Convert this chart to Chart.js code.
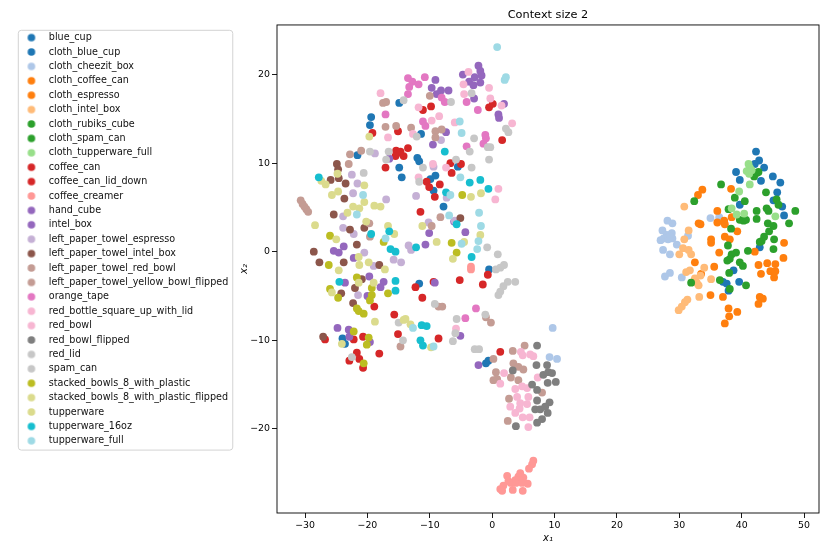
<!DOCTYPE html>
<html>
<head>
<meta charset="utf-8">
<title>Context size 2</title>
<script src="https://cdn.jsdelivr.net/npm/chart.js@4.4.1/dist/chart.umd.min.js"></script>
<style>
    html, body { margin: 0; padding: 0; background: #fff; }
    #wrap { width: 830px; height: 554px; }
</style>
</head>
<body>
<div id="wrap"><canvas id="tsneChart"></canvas></div>
<script>
/* ========================================
   t-SNE embedding, context size 2
   ======================================== */

// Axis limits and ticks
const xRange = [-34.5, 52.4];
const yRange = [-29.5, 25.6];
const xTicks = [-30, -20, -10, 0, 10, 20, 30, 40, 50];
const yTicks = [-20, -10, 0, 10, 20];

const categories = [
    'blue_cup', 'cloth_blue_cup', 'cloth_cheezit_box', 'cloth_coffee_can', 'cloth_espresso',
    'cloth_intel_box', 'cloth_rubiks_cube', 'cloth_spam_can', 'cloth_tupperware_full', 'coffee_can',
    'coffee_can_lid_down', 'coffee_creamer', 'hand_cube', 'intel_box', 'left_paper_towel_espresso',
    'left_paper_towel_intel_box', 'left_paper_towel_red_bowl', 'left_paper_towel_yellow_bowl_flipped',
    'orange_tape', 'red_bottle_square_up_with_lid', 'red_bowl', 'red_bowl_flipped', 'red_lid',
    'spam_can', 'stacked_bowls_8_with_plastic', 'stacked_bowls_8_with_plastic_flipped',
    'tupperware', 'tupperware_16oz', 'tupperware_full'
];

// Points per category, [x1, x2]
const blue_cup = [[-14.9,16.8],[-19.4,15.2],[-19.6,14.3],[-11.4,13.3],[-21.6,10.9],[-12.0,10.6],[-11.7,10.2],[-14.9,9.5],[-14.5,8.4],[-5.5,9.6],[-9.9,8.2],[-9.1,8.6],[-9.4,6.9],[-7.8,5.1],[-11.7,-3.6],[-0.5,-2.0],[-0.6,-12.3],[-1.0,-12.6],[-24.0,-9.8],[-23.6,-10.4]];
const cloth_blue_cup = [[42.3,11.3],[42.8,10.3],[42.1,9.9],[43.6,9.5],[39.1,9.0],[39.7,8.1],[43.1,8.0],[45.0,8.5],[46.2,7.8],[45.7,6.7],[45.1,5.8],[39.7,5.3],[46.5,5.1],[46.8,4.1],[42.9,0.5],[38.7,-2.1],[39.6,-3.4],[37.0,-3.4],[37.6,-3.6],[37.9,-4.4]];
const cloth_cheezit_box = [[28.1,3.5],[28.9,3.2],[35.0,3.8],[36.4,3.9],[27.3,2.4],[28.0,1.9],[28.8,2.1],[27.5,1.5],[28.2,1.4],[28.9,1.5],[28.5,1.7],[27.0,1.3],[29.6,0.8],[27.4,0.2],[28.5,-0.3],[31.4,1.8],[27.7,-2.8],[28.5,-2.4],[30.4,-2.9],[9.7,-8.6],[9.2,-11.9],[10.4,-12.1]];
const cloth_coffee_can = [[33.7,7.0],[33.0,6.4],[38.3,7.1],[36.1,4.6],[33.1,3.2],[33.4,3.1],[36.1,3.3],[37.2,3.5],[37.3,3.1],[38.4,3.9],[39.3,2.3],[35.1,1.4],[35.1,1.0],[37.3,1.7],[38.1,1.4],[36.4,-0.1],[32.5,-1.2],[35.6,-1.7],[33.5,-2.5]];
const cloth_espresso = [[42.1,0.0],[46.8,1.0],[46.7,-0.7],[42.7,-1.5],[44.1,-1.3],[45.4,-1.4],[43.1,-2.5],[44.6,-2.2],[45.4,-2.2],[45.2,-2.9],[35.0,-4.9],[37.0,-5.1],[42.9,-5.1],[43.4,-5.3],[42.7,-5.9],[37.9,-6.4],[39.3,-6.8],[38.0,-7.3],[37.3,-8.1]];
const cloth_intel_box = [[30.8,5.1],[31.5,2.4],[30.6,0.4],[31.5,0.2],[31.9,-0.3],[30.0,-0.3],[30.8,1.4],[31.7,-2.1],[31.1,-2.3],[34.0,-1.8],[33.4,-2.7],[32.5,-3.0],[32.8,-3.5],[33.1,-3.8],[35.1,-3.1],[33.2,-5.1],[31.3,-5.4],[30.9,-5.7],[30.4,-6.2],[29.9,-6.6]];
const cloth_rubiks_cube = [[42.4,8.9],[42.0,8.5],[42.7,9.0],[36.7,7.6],[32.4,5.7],[43.9,6.7],[38.9,6.1],[40.5,5.7],[45.6,5.9],[45.9,5.3],[44.0,4.9],[44.3,4.6],[42.4,4.6],[37.9,4.8],[48.6,4.6],[39.7,3.6],[40.3,3.5],[40.7,3.6],[42.4,3.7],[44.2,3.2],[45.1,2.9]];
const cloth_spam_can = [[47.6,3.2],[38.3,2.6],[44.4,2.3],[43.6,1.7],[43.2,1.2],[42.9,1.1],[45.2,1.4],[45.1,0.3],[37.8,0.7],[41.0,0.1],[39.1,-0.1],[38.4,-0.3],[38.1,-0.8],[37.7,-1.0],[39.7,-1.2],[40.2,-1.6],[38.0,-2.4],[31.9,-3.5],[36.5,-3.2],[40.7,-3.8],[38.1,-4.2]];
const cloth_tupperware_full = [[41.1,9.9],[41.3,9.5],[40.8,9.1],[41.2,8.8],[41.6,9.2],[41.3,7.6],[39.6,6.8],[38.4,4.9],[39.2,4.2],[40.4,4.3],[45.4,4.0]];
const coffee_can = [[-19.2,13.4],[-15.1,13.6],[-9.8,16.4],[-11.1,16.0],[-0.5,16.3],[0.1,16.7],[1.6,12.6],[-13.5,11.7],[-15.4,11.4],[-15.3,11.1],[-14.7,11.3],[-14.2,10.8],[-15.5,10.8],[-17.1,9.5],[-6.7,10.0],[-5.0,9.9],[-6.5,8.9],[-10.5,7.9],[-10.1,7.3],[-8.4,7.6],[-9.2,6.2]];
const coffee_can_lid_down = [[-18.9,-6.2],[-15.7,-7.1],[-15.1,-9.3],[-26.8,-9.9],[-22.2,-9.9],[-20.7,-9.6],[-21.7,-11.4],[-22.9,-12.3],[-21.3,-12.1],[-18.1,-11.5],[-20.7,-13.1],[-12.3,-4.0],[-11.5,4.5],[-5.2,-3.2],[-1.5,-3.7],[-0.7,-2.6],[-11.2,-5.2],[-9.4,-3.4],[-8.6,-9.8],[1.3,-11.3]];
const coffee_creamer = [[-3.4,-1.7],[-3.4,-2.0],[6.6,-23.6],[6.4,-24.0],[5.9,-24.5],[4.5,-25.0],[4.2,-25.4],[5.0,-25.5],[4.5,-25.8],[3.7,-25.8],[2.4,-25.3],[2.6,-25.9],[3.0,-26.1],[3.8,-26.1],[4.8,-26.1],[5.7,-26.2],[1.8,-26.4],[1.3,-26.8],[1.6,-27.0],[3.3,-26.9],[4.9,-27.0]];
const hand_cube = [[-16.5,10.5],[-25.4,0.1],[-24.6,-0.1],[-23.8,0.6],[-22.2,-0.7],[-23.6,-3.5],[-19.7,-2.8],[-17.4,-3.4],[-17.9,-4.0],[-20.0,-5.0],[-24.8,-8.6],[-23.0,-8.8],[-22.9,-9.6],[-19.6,-10.2],[-10.1,2.1],[-6.1,3.4],[-4.3,2.2],[-10.7,0.8],[-9.2,-3.5],[-5.1,-9.5],[-2.2,-12.8]];
const intel_box = [[-2.2,21.0],[-1.9,20.4],[-1.7,19.9],[-4.7,20.0],[-2.8,19.7],[-3.7,19.2],[-3.0,18.8],[-1.9,19.1],[-2.9,17.3],[-9.1,19.4],[-9.7,18.5],[-8.2,18.2],[-8.9,17.8],[-7.0,18.2],[1.9,16.7],[1.0,15.5],[1.1,15.1],[-7.4,13.5],[-9.5,12.1]];
const left_paper_towel_espresso = [[-18.8,11.1],[-22.5,8.7],[-21.6,7.7],[-22.3,6.6],[-8.2,12.6],[-9.4,9.6],[-12.2,6.3],[-7.3,6.1],[-23.9,4.0],[-23.9,2.7],[-22.2,2.0],[-20.5,-0.1],[-19.0,-1.6],[-15.8,-0.9],[-14.6,-1.2],[-13.4,0.7],[-13.0,0.2],[-21.5,-4.9],[-17.0,5.9],[-10.2,3.3],[-6.0,3.5]];
const left_paper_towel_intel_box = [[-24.9,9.9],[-24.7,9.3],[-25.9,8.1],[-24.6,8.3],[-23.5,7.7],[-23.7,6.0],[-25.4,4.2],[-22.8,2.5],[-20.5,2.7],[-21.7,0.8],[-28.6,0.0],[-27.7,-1.2],[-23.8,-1.2],[-18.1,-1.5],[-20.9,-3.1],[-22.0,-4.1],[-24.2,-4.7],[-22.3,-5.8],[-27.1,-9.6],[-5.1,3.8]];
const left_paper_towel_red_bowl = [[-17.5,16.8],[-17.0,16.9],[-17.1,14.1],[-15.4,14.2],[-13.0,14.0],[-10.0,17.6],[-9.1,13.6],[-9.1,12.9],[-8.1,13.8],[-22.8,11.0],[-21.0,11.4],[-23.0,9.9],[-19.6,1.7],[-14.7,-10.7],[-19.7,3.2],[-9.7,2.9],[-8.3,3.9],[-8.6,-6.2],[-8.0,-6.2]];
const left_paper_towel_yellow_bowl_flipped = [[-30.7,5.8],[-30.4,5.4],[-30.1,5.1],[-29.8,4.8],[-29.5,4.5],[-1.0,-7.4],[-0.2,-8.0],[0.2,-12.1],[3.3,-11.2],[5.2,-10.6],[3.4,-12.6],[4.2,-13.0],[5.0,-13.3],[0.6,-13.6],[0.2,-14.5],[0.8,-14.4],[3.0,-14.2],[4.2,-14.5],[2.7,-16.6],[2.5,-19.1],[8.0,-15.9]];
const orange_tape = [[-13.5,19.6],[-12.8,19.2],[-11.8,18.9],[-13.3,18.6],[-13.5,17.8],[-10.8,19.7],[-17.1,15.5],[-11.1,14.7],[-10.7,14.2],[-8.1,17.4],[-7.6,16.9],[-4.1,16.9],[-2.3,16.0],[-1.1,13.2],[-1.0,12.8],[-1.4,12.2],[-4.1,11.9],[-2.6,-6.4],[-4.3,-7.5]];
const red_bottle_square_up_with_lid = [[-3.8,20.3],[-4.6,18.9],[-0.5,18.5],[-4.5,17.8],[-0.3,17.3],[1.5,16.5],[3.2,14.5],[-17.9,17.9],[-11.8,16.3],[-9.7,14.8],[-8.5,15.3],[-16.7,12.9],[-12.7,13.3],[-6.0,14.6],[-9.5,9.9],[-7.4,9.5],[-11.8,8.4],[1.0,7.1],[0.5,5.9]];
const red_bowl = [[-5.8,-8.7],[4.6,-11.3],[4.9,-11.7],[6.1,-11.6],[6.6,-11.8],[1.9,-13.7],[1.3,-14.9],[3.7,-15.5],[4.8,-15.2],[5.6,-15.4],[4.0,-16.4],[5.8,-16.4],[2.9,-17.5],[4.5,-17.1],[5.6,-17.2],[3.7,-18.2],[4.4,-17.7],[4.9,-18.7],[6.0,-18.7],[5.8,-19.8],[7.3,-14.2]];
const red_bowl_flipped = [[7.2,-10.6],[7.1,-12.8],[8.8,-12.8],[3.3,-13.4],[8.2,-13.9],[9.0,-13.6],[9.6,-13.7],[8.9,-14.8],[10.2,-14.7],[6.4,-15.0],[7.2,-15.6],[7.2,-16.8],[9.2,-17.0],[6.9,-17.8],[7.7,-17.8],[8.5,-17.5],[8.9,-18.2],[8.0,-18.9],[7.2,-19.3],[3.8,-19.7]];
const red_lid = [[-22.5,-11.9],[-15.0,-8.0],[-14.3,-10.0],[-0.8,0.5],[0.9,-0.3],[1.3,-1.8],[1.9,-1.5],[0.6,-2.0],[2.5,-3.4],[3.7,-3.4],[1.8,-3.9],[1.3,-4.5],[1.0,-4.9],[-9.2,-5.9],[-1.1,-7.1],[-5.7,-7.6],[-5.9,-9.2],[-6.3,-10.1],[-2.8,-11.0],[-2.1,-11.0]];
const spam_can = [[-14.2,17.1],[-12.1,13.0],[-16.6,11.3],[-19.6,11.3],[-6.6,16.9],[-11.1,9.5],[-17.0,10.4],[-20.6,8.9],[-5.8,10.4],[-3.3,17.9],[-2.9,12.8],[-3.6,11.3],[-0.7,11.8],[-0.3,11.8],[2.2,13.9],[2.6,13.5],[-0.5,10.4],[-3.3,9.5],[-11.7,7.9]];
const stacked_bowls_8_with_plastic = [[-4.8,6.4],[-26.0,1.8],[-17.4,1.1],[-26.2,-1.5],[-21.7,-2.9],[-19.3,-4.1],[-26.0,-4.2],[-24.7,-5.2],[-19.3,-4.9],[-19.6,-5.5],[-16.7,-4.7],[-21.7,-6.4],[-21.4,-6.7],[-20.6,-7.0],[-22.2,-9.0],[-19.8,-9.7],[-20.1,-10.5],[-20.6,-12.6],[-6.5,1.0],[-5.7,-0.1]];
const stacked_bowls_8_with_plastic_flipped = [[-19.7,13.0],[-27.4,8.0],[-26.7,7.6],[-24.8,8.8],[-20.5,7.5],[-24.7,6.8],[-25.7,6.4],[-22.3,5.1],[-21.3,4.9],[-20.5,5.6],[-18.9,5.2],[-17.9,5.1],[-23.2,4.4],[-28.4,3.0],[-20.2,3.4],[-16.7,2.9],[-15.7,2.0],[-25.0,1.4],[-21.4,-0.6],[-21.3,-1.5]];
const tupperware = [[-19.8,-1.2],[-24.6,-2.1],[-17.2,-2.0],[-19.0,-3.5],[-21.4,-3.5],[-25.7,-4.6],[-18.8,-7.9],[-14.2,-7.7],[-13.9,-7.6],[-13.1,-8.2],[-24.1,-10.4],[-3.4,6.2],[-1.8,6.6],[-11.2,2.9],[-1.9,1.9],[-8.9,1.1],[-4.5,1.1],[-6.3,-0.8],[-9.8,-10.8]];
const tupperware_16oz = [[-7.6,11.3],[-3.6,7.8],[-1.9,8.1],[-0.6,7.1],[-7.4,6.7],[-27.8,8.4],[-19.4,2.0],[-16.5,2.3],[-16.3,0.3],[-15.5,0.0],[-24.5,-3.4],[-15.5,-3.3],[-15.5,-4.4],[-12.2,0.5],[-5.7,3.1],[-3.3,-0.6],[-11.3,-8.3],[-10.5,-8.4],[-11.5,-10.0],[-11.1,-10.6]];
const tupperware_full = [[0.8,23.1],[2.0,19.4],[2.2,19.7],[-5.2,14.7],[-4.9,13.4],[-5.1,8.4],[-6.7,6.4],[-20.7,6.4],[-21.7,4.2],[-17.1,1.5],[-12.7,-8.6],[-6.9,4.1],[-2.1,4.4],[-1.8,2.9],[-2.2,1.2],[-2.4,0.3],[-4.9,0.9],[-9.4,-10.7]];

const seriesPoints = [
    blue_cup, cloth_blue_cup, cloth_cheezit_box, cloth_coffee_can, cloth_espresso,
    cloth_intel_box, cloth_rubiks_cube, cloth_spam_can, cloth_tupperware_full, coffee_can,
    coffee_can_lid_down, coffee_creamer, hand_cube, intel_box, left_paper_towel_espresso,
    left_paper_towel_intel_box, left_paper_towel_red_bowl, left_paper_towel_yellow_bowl_flipped,
    orange_tape, red_bottle_square_up_with_lid, red_bowl, red_bowl_flipped, red_lid,
    spam_can, stacked_bowls_8_with_plastic, stacked_bowls_8_with_plastic_flipped,
    tupperware, tupperware_16oz, tupperware_full
];

// tab20 colours, sampled for 29 classes
const colors = [
    '#1f77b4', '#1f77b4', '#aec7e8', '#ff7f0e', '#ff7f0e',
    '#ffbb78', '#2ca02c', '#2ca02c', '#98df8a', '#d62728',
    '#d62728', '#ff9896', '#9467bd', '#9467bd', '#c5b0d5',
    '#8c564b', '#c49c94', '#c49c94', '#e377c2', '#f7b6d2',
    '#f7b6d2', '#7f7f7f', '#c7c7c7', '#c7c7c7', '#bcbd22',
    '#dbdb8d', '#dbdb8d', '#17becf', '#9edae5'
];

const FONT = "'DejaVu Sans', 'Liberation Sans', sans-serif";
Chart.defaults.font.family = FONT;
Chart.defaults.color = '#000';

// small round marker for the legend
function legendMarker(color) {
    const c = document.createElement('canvas');
    c.width = 10;
    c.height = 10;
    const g = c.getContext('2d');
    g.fillStyle = color;
    g.beginPath();
    g.arc(5, 5, 3.8, 0, Math.PI * 2);
    g.fill();
    return c;
}

function minusSign(v) {
    return String(v).replace('-', '\u2212');
}

// Box around the plot area (matplotlib spines)
const spinesPlugin = {
    id: 'spines',
    afterDraw(chart) {
        const {ctx, chartArea: a} = chart;
        ctx.save();
        ctx.strokeStyle = '#000';
        ctx.lineWidth = 0.9;
        ctx.strokeRect(a.left, a.top, a.right - a.left, a.bottom - a.top);
        ctx.restore();
    }
};

// Frame round the legend
const legendFramePlugin = {
    id: 'legendFrame',
    afterDraw(chart) {
        const hb = chart.legend && chart.legend.legendHitBoxes;
        if (!hb || !hb.length) return;
        const ctx = chart.ctx;
        const left = hb[0].left - 1;
        const top = hb[0].top - 3;
        const right = Math.max(...hb.map(h => h.left + h.width)) + 4;
        const last = hb[hb.length - 1];
        const bottom = last.top + last.height + 4;
        ctx.save();
        ctx.strokeStyle = '#d3d3d3';
        ctx.lineWidth = 1;
        ctx.beginPath();
        ctx.roundRect(left + 0.5, top + 0.5, right - left, bottom - top, 3);
        ctx.stroke();
        ctx.restore();
    }
};

const datasets = categories.map((name, i) => ({
    label: name,
    data: seriesPoints[i].map(p => ({x: p[0], y: p[1]})),
    backgroundColor: colors[i],
    borderWidth: 0,
    pointRadius: 3.9,
    pointHoverRadius: 3.9,
    order: -i
}));

new Chart(document.getElementById('tsneChart'), {
    type: 'scatter',
    data: { datasets: datasets },
    options: {
        responsive: true,
        maintainAspectRatio: false,
        animation: false,
        layout: {
            padding: { left: 14, right: 11, top: 0, bottom: 0 }
        },
        plugins: {
            tooltip: { enabled: false },
            title: {
                display: true,
                text: 'Context size 2',
                fullSize: false,
                color: '#000',
                font: { size: 11.3, weight: 'normal' },
                padding: { top: 8, bottom: 3.4 }
            },
            legend: {
                position: 'left',
                align: 'start',
                maxWidth: 260,
                title: {
                    display: true,
                    text: '',
                    font: { size: 1, lineHeight: 1 },
                    padding: { top: 27, bottom: 0 }
                },
                labels: {
                    usePointStyle: true,
                    pointStyleWidth: 25.2,
                    padding: 4.8,
                    color: '#111',
                    font: { size: 9.6 },
                    sort: (a, b) => a.datasetIndex - b.datasetIndex,
                    generateLabels(chart) {
                        const items = Chart.defaults.plugins.legend.labels.generateLabels(chart);
                        items.forEach(item => {
                            item.pointStyle = legendMarker(colors[item.datasetIndex]);
                        });
                        return items;
                    }
                },
                onClick: () => {}
            }
        },
        scales: {
            x: {
                type: 'linear',
                min: xRange[0],
                max: xRange[1],
                afterBuildTicks: s => { s.ticks = xTicks.map(v => ({value: v})); },
                afterFit: s => { s.height = 41; },
                border: { display: false },
                grid: {
                    drawOnChartArea: false,
                    drawTicks: true,
                    tickLength: 5,
                    color: '#000',
                    lineWidth: 0.9
                },
                ticks: {
                    padding: 2,
                    color: '#000',
                    font: { size: 9.4 },
                    maxRotation: 0,
                    callback: v => minusSign(v)
                },
                title: {
                    display: true,
                    text: 'x\u2081',
                    color: '#000',
                    font: { size: 10, style: 'italic' },
                    padding: { top: 1, bottom: 10 }
                }
            },
            y: {
                type: 'linear',
                min: yRange[0],
                max: yRange[1],
                afterBuildTicks: s => { s.ticks = yTicks.map(v => ({value: v})); },
                afterFit: s => {
                    const lg = s.chart.legend;
                    const w = lg && lg.width ? lg.width : 220;
                    s.width = Math.max(30, 277 - 14 - w);
                },
                border: { display: false },
                grid: {
                    drawOnChartArea: false,
                    drawTicks: true,
                    tickLength: 5,
                    color: '#000',
                    lineWidth: 0.9
                },
                ticks: {
                    padding: 2,
                    color: '#000',
                    font: { size: 9.4 },
                    callback: v => minusSign(v)
                },
                title: {
                    display: true,
                    text: 'x\u2082',
                    color: '#000',
                    font: { size: 10, style: 'italic' },
                    padding: { top: 0, bottom: 0 }
                }
            }
        }
    },
    plugins: [spinesPlugin, legendFramePlugin]
});
</script>
</body>
</html>
